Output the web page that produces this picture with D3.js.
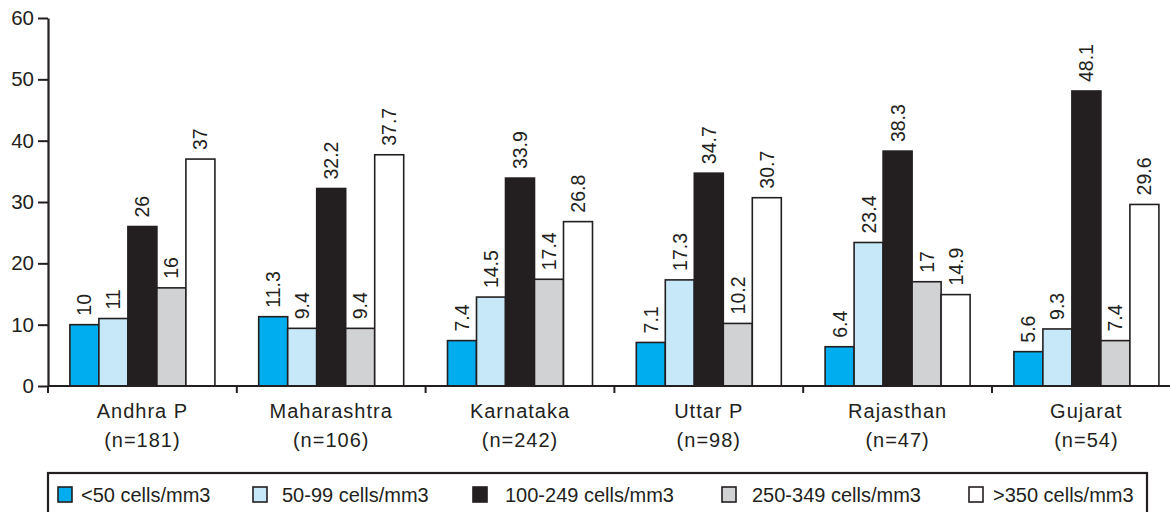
<!DOCTYPE html>
<html>
<head>
<meta charset="utf-8">
<script src="https://cdn.jsdelivr.net/npm/d3@7"></script>
<style>
  html, body { margin: 0; padding: 0; background: #fff; }
  svg { display: block; font-family: "Liberation Sans", Arial, sans-serif; }
</style>
</head>
<body>
<svg id="chart" width="1170" height="512"></svg>
<script>
// States (first label line) and sample sizes (second line)
const states = ["Andhra P", "Maharashtra", "Karnataka", "Uttar P", "Rajasthan", "Gujarat"];
const sampleSizes = ["(n=181)", "(n=106)", "(n=242)", "(n=98)", "(n=47)", "(n=54)"];

// CD4 count groups
const seriesNames = ["<50 cells/mm3", "50-99 cells/mm3", "100-249 cells/mm3", "250-349 cells/mm3", ">350 cells/mm3"];
const seriesColors = ["#00aeef", "#c7e8f8", "#231f20", "#d1d2d4", "#ffffff"];

// Percentage per state for each group
const below50   = [10, 11.3, 7.4, 7.1, 6.4, 5.6];
const from50    = [11, 9.4, 14.5, 17.3, 23.4, 9.3];
const from100   = [26, 32.2, 33.9, 34.7, 38.3, 48.1];
const from250   = [16, 9.4, 17.4, 10.2, 17, 7.4];
const above350  = [37, 37.7, 26.8, 30.7, 14.9, 29.6];
const seriesValues = [below50, from50, from100, from250, above350];

const yTicks = [0, 10, 20, 30, 40, 50, 60];

const ink = "#231f20";
const svg = d3.select("#chart");

const x0 = 48, y0 = 386, yTop = 18;
const band = 188.8;

const x = d3.scaleBand()
  .domain(states)
  .range([x0, x0 + band * states.length])
  .paddingInner(0).paddingOuter(0);

const xs = d3.scaleBand()
  .domain(seriesNames)
  .range([0, x.bandwidth()])
  .paddingInner(0)
  .paddingOuter(0.755);

const y = d3.scaleLinear().domain([0, 60]).range([y0, yTop]);

// Bars
const groups = svg.append("g").selectAll("g")
  .data(states)
  .join("g")
  .attr("transform", d => `translate(${x(d)},0)`);

groups.each(function(state, i) {
  const g = d3.select(this);
  const rows = seriesNames.map((s, k) => ({ s, k, v: seriesValues[k][i] }));
  g.selectAll("rect")
    .data(rows)
    .join("rect")
    .attr("x", d => xs(d.s))
    .attr("y", d => y(d.v))
    .attr("width", xs.bandwidth())
    .attr("height", d => y(0) - y(d.v))
    .attr("fill", d => seriesColors[d.k])
    .attr("stroke", ink)
    .attr("stroke-width", 1.6);

  g.selectAll("text")
    .data(rows)
    .join("text")
    .attr("transform", d => `translate(${xs(d.s) + xs.bandwidth() / 2 + 7},${y(d.v) - 9}) rotate(-90)`)
    .attr("text-anchor", "start")
    .attr("font-size", 19.5)
    .attr("fill", ink)
    .text(d => d.v);
});

// Y axis
const yAxis = svg.append("g")
  .attr("transform", `translate(${x0},0)`)
  .call(d3.axisLeft(y).tickValues(yTicks).tickSize(10).tickPadding(4).tickSizeOuter(0));
yAxis.select(".domain").attr("stroke", ink).attr("stroke-width", 2.2);
yAxis.selectAll(".tick line").attr("stroke", ink).attr("stroke-width", 2);
yAxis.selectAll(".tick text")
  .attr("font-size", 20.5)
  .attr("font-family", "Liberation Sans, Arial, sans-serif")
  .attr("fill", ink);

// X axis: baseline with ticks at category boundaries
const xAxis = svg.append("g");
xAxis.append("line")
  .attr("x1", x0).attr("x2", x.range()[1])
  .attr("y1", y0).attr("y2", y0)
  .attr("stroke", ink).attr("stroke-width", 2.2);
xAxis.selectAll("line.tick")
  .data(states)
  .join("line")
  .attr("class", "tick")
  .attr("x1", d => x(d)).attr("x2", d => x(d))
  .attr("y1", y0).attr("y2", y0 + 7)
  .attr("stroke", ink).attr("stroke-width", 2);

const catLabels = xAxis.selectAll("text.cat")
  .data(states)
  .join("text")
  .attr("class", "cat")
  .attr("text-anchor", "middle")
  .attr("font-size", 20)
  .attr("letter-spacing", 1)
  .attr("fill", ink);
catLabels.append("tspan")
  .attr("x", d => x(d) + x.bandwidth() / 2)
  .attr("y", 418)
  .text(d => d);
catLabels.append("tspan")
  .attr("x", d => x(d) + x.bandwidth() / 2)
  .attr("y", 447)
  .text((d, i) => sampleSizes[i]);

// Legend
const legend = svg.append("g");
legend.append("rect")
  .attr("x", 48).attr("y", 473)
  .attr("width", 1099).attr("height", 60)
  .attr("fill", "#fff")
  .attr("stroke", ink).attr("stroke-width", 2.2);

const legendX = [58, 253, 473, 722, 969];
const textOffset = [23, 29, 32, 30, 24];
const items = legend.selectAll("g.item")
  .data(seriesNames)
  .join("g")
  .attr("class", "item")
  .attr("transform", (d, i) => `translate(${legendX[i]},487)`);
items.append("rect")
  .attr("width", 14).attr("height", 15)
  .attr("fill", (d, i) => seriesColors[i])
  .attr("stroke", ink).attr("stroke-width", 1.6);
items.append("text")
  .attr("x", (d, i) => textOffset[i])
  .attr("y", 15)
  .attr("font-size", 20)
  .attr("fill", ink)
  .text(d => d);
</script>
</body>
</html>
